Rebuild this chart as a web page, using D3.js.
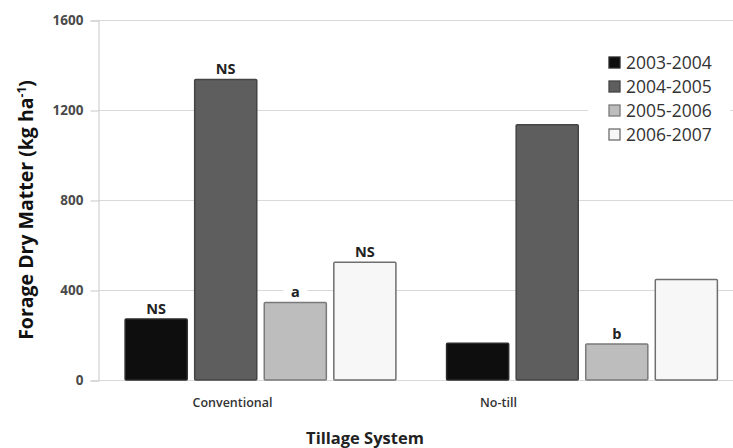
<!DOCTYPE html>
<html>
<head>
<meta charset="utf-8">
<script src="https://cdn.jsdelivr.net/npm/d3@7"></script>
<style>
  html, body { margin: 0; padding: 0; background: #fff; }
  svg { display: block; font-family: "Open Sans", "Noto Sans", sans-serif; }
</style>
</head>
<body>
<svg id="chart" width="733" height="448"></svg>
<script>
// Forage dry matter by tillage system and season
const categories = ["Conventional", "No-till"];
const seasons = ["2003-2004", "2004-2005", "2005-2006", "2006-2007"];
const conventional = [271, 1336, 345, 523];
const noTill = [163, 1135, 160, 447];
const conventionalLabels = ["NS", "NS", "a", "NS"];
const noTillLabels = ["", "", "b", ""];
const yTicks = [0, 400, 800, 1200, 1600];

const fills = ["#0e0e0e", "#5e5e5e", "#bdbdbd", "#f7f7f7"];
const strokes = ["#2a2a2a", "#444444", "#7a7a7a", "#6e6e6e"];

const series = [conventional, noTill];
const labels = [conventionalLabels, noTillLabels];

const svg = d3.select("#chart");

const y = d3.scaleLinear().domain([0, 1600]).range([380, 20]);

const x0 = d3.scaleBand()
  .domain(categories)
  .range([98, 744.5])
  .paddingInner(0.153)
  .paddingOuter(0.082);

const x1 = d3.scaleBand()
  .domain(seasons)
  .range([0, x0.bandwidth()])
  .paddingInner(0.086)
  .paddingOuter(0);

// category label positions along the bottom
const xLabel = d3.scalePoint().domain(categories).range([232, 498]);

// gridlines
svg.append("g")
  .selectAll("line")
  .data(yTicks)
  .join("line")
  .attr("x1", 98)
  .attr("x2", 733)
  .attr("y1", d => y(d) + 0.5)
  .attr("y2", d => y(d) + 0.5)
  .attr("stroke", "#d9d9d9")
  .attr("stroke-width", 1.2);

// y axis
const yAxis = svg.append("g")
  .attr("transform", "translate(98.5,0.5)")
  .call(d3.axisLeft(y).tickValues(yTicks).tickSize(8).tickPadding(7).tickFormat(d3.format("d")));
yAxis.select(".domain").attr("stroke", "#d0d0d0").attr("stroke-width", 1.2);
yAxis.selectAll(".tick line").attr("stroke", "#d0d0d0").attr("stroke-width", 1.2);
yAxis.selectAll(".tick text")
  .attr("fill", "#4a4a4a")
  .style("font-size", "13.5px")
  .style("font-weight", "700")
  .style("font-family", "'Open Sans', sans-serif");

// legend
const legend = svg.append("g").attr("transform", "translate(588,48)");
legend.append("rect")
  .attr("x", 0).attr("y", 0)
  .attr("width", 142).attr("height", 102)
  .attr("fill", "#fff");
const items = legend.selectAll("g.item")
  .data(seasons)
  .join("g")
  .attr("class", "item")
  .attr("transform", (d, i) => `translate(21,${9 + i * 24})`);
items.append("rect")
  .attr("width", 11).attr("height", 11)
  .attr("fill", (d, i) => fills[i])
  .attr("stroke", (d, i) => strokes[i])
  .attr("stroke-width", 1.3);
items.append("text")
  .attr("x", 17).attr("y", 11.5)
  .attr("fill", "#333")
  .style("font-size", "17.5px")
  .text(d => d);

// bars
const groups = svg.append("g")
  .selectAll("g")
  .data(categories)
  .join("g")
  .attr("transform", d => `translate(${x0(d)},0)`);

groups.selectAll("rect")
  .data((c, ci) => seasons.map((s, si) => ({ s, si, v: series[ci][si] })))
  .join("rect")
  .attr("x", d => x1(d.s) + 0.75)
  .attr("width", x1.bandwidth() - 1.5)
  .attr("y", d => y(d.v))
  .attr("height", d => y(0) - y(d.v))
  .attr("fill", d => fills[d.si])
  .attr("stroke", d => strokes[d.si])
  .attr("stroke-width", 1.5)
  .attr("rx", 1);

// significance labels above bars
const lab = groups.selectAll("g.lab")
  .data((c, ci) => seasons.map((s, si) => ({ s, si, v: series[ci][si], t: labels[ci][si] })).filter(d => d.t))
  .join("g")
  .attr("class", "lab")
  .attr("transform", d => `translate(${x1(d.s) + x1.bandwidth() / 2},${y(d.v) - 5})`);
lab.append("rect")
  .attr("x", d => -(d.t.length * 5 + 7))
  .attr("width", d => d.t.length * 10 + 14)
  .attr("y", -13)
  .attr("height", 15)
  .attr("fill", "#fff");
lab.append("text")
  .attr("text-anchor", "middle")
  .attr("fill", "#222")
  .style("font-size", "14.5px")
  .style("font-weight", "700")
  .text(d => d.t);

// category axis labels
const xAxis = svg.append("g")
  .attr("transform", "translate(0,392)")
  .call(d3.axisBottom(xLabel).tickSize(0).tickPadding(6));
xAxis.select(".domain").remove();
xAxis.selectAll(".tick text")
  .attr("fill", "#333")
  .style("font-size", "12.5px")
  .style("font-weight", "600")
  .style("font-family", "'Open Sans', sans-serif");

// axis titles
svg.append("text")
  .attr("x", 365).attr("y", 444)
  .attr("text-anchor", "middle")
  .attr("fill", "#222")
  .style("font-size", "16.5px")
  .style("font-weight", "700")
  .text("Tillage System");

const yt = svg.append("text")
  .attr("transform", "translate(33,210) rotate(-90)")
  .attr("text-anchor", "middle")
  .attr("fill", "#111")
  .style("font-size", "19.5px")
  .style("font-weight", "700");
yt.append("tspan").text("Forage Dry Matter (kg ha");
yt.append("tspan").attr("dy", -7).style("font-size", "12px").text("-1");
yt.append("tspan").attr("dy", 7).text(")");
</script>
</body>
</html>
